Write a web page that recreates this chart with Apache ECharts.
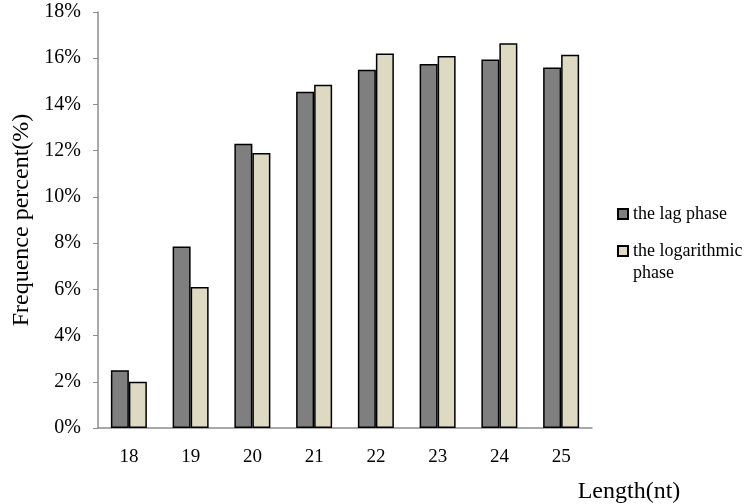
<!DOCTYPE html>
<html>
<head>
<meta charset="utf-8">
<script src="https://cdn.jsdelivr.net/npm/echarts@6/dist/echarts.min.js"></script>
<style>
    html, body { margin: 0; padding: 0; background: #fff; }
    #chart { width: 748px; height: 504px; }
</style>
</head>
<body>
<div id="chart"></div>
<script>
let lengths = ['18', '19', '20', '21', '22', '23', '24', '25'];
let lagPhase = [2.5, 7.85, 12.3, 14.55, 15.5, 15.75, 15.95, 15.6];
let logPhase = [2.0, 6.1, 11.9, 14.85, 16.2, 16.1, 16.65, 16.15];
let seriesNames = ['the lag phase', 'the logarithmic phase'];

let serif = 'Liberation Serif';
let myChart = echarts.init(document.getElementById('chart'));

let option = {
    animation: false,
    grid: {
        left: 98,
        right: 156,
        top: 12,
        bottom: 76
    },
    legend: {
        orient: 'vertical',
        left: 612,
        top: 198,
        itemWidth: 10,
        itemHeight: 10,
        itemGap: -7,
        icon: 'rect',
        data: seriesNames,
        // blank line in front so the icon sits on the first line of the wrapped name
        formatter: function (name) {
            return name === seriesNames[1] ? '\n' + name : name;
        },
        textStyle: {
            fontFamily: serif,
            fontSize: 18,
            color: '#000',
            width: 118,
            overflow: 'break',
            lineHeight: 22
        }
    },
    xAxis: {
        type: 'category',
        data: lengths,
        name: 'Length(nt)',
        nameLocation: 'end',
        nameGap: 37,
        nameTextStyle: {
            fontFamily: serif,
            fontSize: 24,
            color: '#000',
            align: 'center',
            verticalAlign: 'top',
            padding: [52, 0, 0, 0]
        },
        axisLine: { lineStyle: { color: '#8c8c8c', width: 1.5 } },
        axisTick: { length: 5, lineStyle: { color: '#8c8c8c' } },
        axisLabel: {
            fontFamily: serif,
            fontSize: 19,
            color: '#000',
            margin: 20
        }
    },
    yAxis: {
        type: 'value',
        min: 0,
        max: 18,
        interval: 2,
        name: 'Frequence percent(%)',
        nameLocation: 'middle',
        nameGap: 62,
        nameTextStyle: {
            fontFamily: serif,
            fontSize: 24,
            color: '#000'
        },
        axisLine: { show: true, lineStyle: { color: '#8c8c8c', width: 1.5 } },
        axisTick: { show: true, length: 5, lineStyle: { color: '#8c8c8c' } },
        splitLine: { show: false },
        axisLabel: {
            formatter: '{value}%',
            fontFamily: serif,
            fontSize: 20,
            color: '#000',
            margin: 17
        }
    },
    series: [
        {
            name: seriesNames[0],
            type: 'bar',
            data: lagPhase,
            barWidth: 18,
            barGap: '0%',
            itemStyle: { color: '#7f7f7f', borderColor: '#000', borderWidth: 1.5 }
        },
        {
            name: seriesNames[1],
            type: 'bar',
            data: logPhase,
            barWidth: 18,
            itemStyle: { color: '#ddd9c3', borderColor: '#000', borderWidth: 1.5 }
        }
    ]
};
myChart.setOption(option);
</script>
</body>
</html>
